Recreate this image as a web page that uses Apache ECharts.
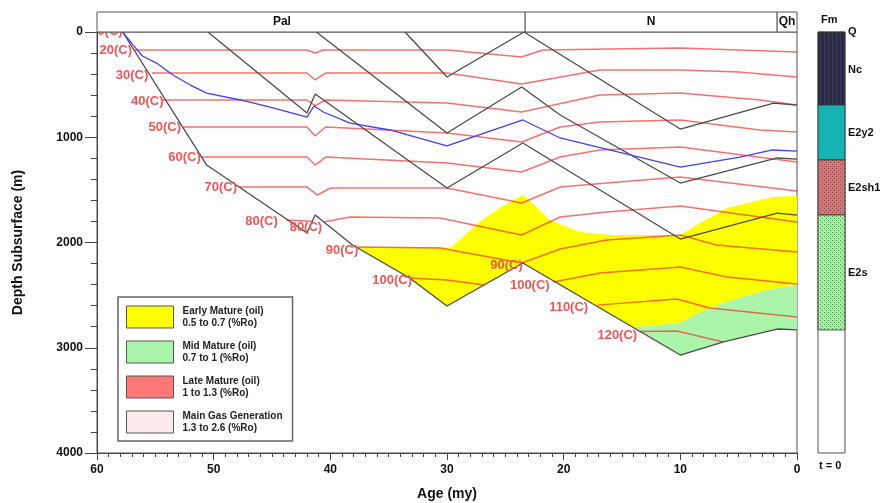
<!DOCTYPE html>
<html>
<head>
<meta charset="utf-8">
<script src="https://cdn.jsdelivr.net/npm/echarts@6/dist/echarts.min.js"></script>
<style>
  html, body { margin: 0; padding: 0; background: #fff; }
  #chart { width: 893px; height: 503px; }
</style>
</head>
<body>
<div id="chart"></div>
<script>
// periods on the top band (ages in my)
const periods = ['Pal', 'N', 'Qh'];
const periodAges = [65, 23.3, 1.7, 0];

// burial history of the horizons, [age (my), depth (m)]
const horizonA = [[57.8, 0], [50.6, 1264], [42.0, 1910], [41.3, 1739], [38.1, 2024], [33.2, 2337], [30.0, 2603], [23.5, 2195], [10.0, 3069], [6.3, 2945], [1.7, 2822], [0, 2831]];
const horizonB = [[50.5, 0], [42.0, 770], [41.3, 589], [30.0, 1482], [23.5, 1055], [10.0, 1967], [1.7, 1720], [0, 1739]];
const horizonC = [[41.2, 0], [30.0, 960], [23.6, 523], [20.3, 789], [10.0, 1435], [1.7, 1197], [0, 1207]];
const horizonD = [[33.6, 0], [30.0, 428], [23.4, 0], [10.0, 922], [2.0, 675], [0, 694]];
const sourceRock = [[57.8, 0], [56.9, 124], [56.1, 228], [54.9, 295], [53.5, 409], [52.0, 504], [50.6, 580], [47.7, 646], [44.9, 722], [42.0, 808], [41.4, 703], [40.6, 760], [38.3, 865], [34.9, 931], [30.0, 1083], [23.5, 836], [20.3, 1007], [10.0, 1283], [4.9, 1188], [2.1, 1121], [0, 1131]];

// isotherms
const iso20 = [[56.8, 171], [42.0, 171], [41.3, 200], [40.6, 171], [30.0, 171], [23.6, 238], [21.8, 171], [10.0, 152], [0, 190]];
const iso30 = [[55.3, 390], [42.0, 390], [41.3, 456], [40.4, 390], [30.0, 390], [23.6, 494], [16.9, 361], [10.0, 361], [5.0, 380], [0, 428]];
const iso40 = [[54.4, 646], [42.0, 646], [41.3, 700], [40.4, 646], [30.0, 675], [23.6, 760], [16.9, 599], [10.0, 580], [3.2, 646], [0, 694]];
const iso50 = [[52.6, 903], [42.0, 903], [41.3, 988], [40.4, 903], [30.0, 960], [23.6, 1045], [20.3, 903], [16.9, 855], [10.0, 836], [3.2, 931], [0, 950]];
const iso60 = [[51.0, 1188], [42.0, 1188], [41.3, 1264], [40.4, 1188], [30.0, 1245], [23.6, 1330], [20.3, 1188], [16.9, 1121], [10.0, 1093], [0, 1235]];
const iso70 = [[47.8, 1473], [42.0, 1473], [41.1, 1549], [40.0, 1482], [30.0, 1482], [23.6, 1625], [20.3, 1473], [16.3, 1435], [10.0, 1378], [0, 1511]];
const iso80a = [[43.8, 1786], [42.0, 1796], [41.55, 1800]];
const iso80b = [[40.6, 1805], [38.3, 1758], [30.6, 1767], [23.6, 1929], [20.3, 1758], [16.3, 1710], [10.0, 1653], [0, 1805]];
const iso90 = [[37.7, 2043], [30.6, 2052], [23.6, 2195], [20.3, 2062], [16.3, 1976], [10.0, 1929], [6.9, 2024], [0, 2090]];
const iso100a = [[33.2, 2337], [30.0, 2356], [26.8, 2404]];
const iso100b = [[20.9, 2375], [16.9, 2290], [10.0, 2233], [6.0, 2328], [0, 2394]];
const iso110 = [[17.1, 2595], [10.3, 2537], [7.5, 2622], [0, 2708]];
const iso120 = [[13.5, 2845], [10.3, 2841], [6.3, 2945]];

const isoLabels = ['10(C)', '20(C)', '30(C)', '40(C)', '50(C)', '60(C)', '70(C)', '80(C)', '80(C)', '90(C)', '100(C)', '90(C)', '100(C)', '110(C)', '120(C)'];
const isoLabelAt = [[57.8, -8], [57.0, 171], [55.6, 409], [54.3, 656], [52.8, 903], [51.1, 1188], [48.0, 1473], [44.5, 1796], [40.7, 1853], [37.6, 2071], [33.0, 2356], [23.5, 2214], [21.2, 2404], [17.9, 2613], [13.7, 2879]];

// maturity zones
const earlyMature = [[37.7, 2043], [30.6, 2043], [29.7, 2052], [27.2, 1805], [25.5, 1672], [23.5, 1549], [22.5, 1644], [21.2, 1786], [18.6, 1900], [16.0, 1929], [10.0, 1929], [8.3, 1815], [6.0, 1672], [2.1, 1568], [0, 1558], [0, 2404], [2.6, 2451], [5.5, 2546], [8.3, 2660], [10.0, 2765], [13.7, 2803], [13.8, 2822], [23.5, 2195], [30.0, 2603], [33.2, 2337]];
const midMature = [[13.8, 2822], [13.7, 2803], [10.0, 2765], [8.3, 2660], [5.5, 2546], [2.6, 2451], [0, 2404], [0, 2831], [1.7, 2822], [6.3, 2945], [10.0, 3069]];

const legendNames = ['Early Mature (oil)', 'Mid Mature (oil)', 'Late Mature (oil)', 'Main Gas Generation'];
const legendRanges = ['0.5 to 0.7 (%Ro)', '0.7 to 1 (%Ro)', '1 to 1.3 (%Ro)', '1.3 to 2.6 (%Ro)'];

// formations at t = 0
const fmNames = ['Q', 'Nc', 'E2y2', 'E2sh1', 'E2s'];
const fmTop = [0, 25, 694, 1216, 1739];
const fmBase = [25, 694, 1216, 1739, 2831];

function pattern(bg, dot, size, mode) {
  const c = document.createElement('canvas');
  c.width = size;
  c.height = size;
  const g = c.getContext('2d');
  g.fillStyle = bg;
  g.fillRect(0, 0, size, size);
  g.fillStyle = dot;
  if (mode === 'vline') {
    g.fillRect(0, 0, 1, size);
  } else {
    g.fillRect(0, 0, 1, 1);
    g.fillRect(size / 2, size / 2, 1, 1);
  }
  return { image: c, repeat: 'repeat' };
}

const fmFill = [
  pattern('#272a42', '#3a3d58', 4, 'vline'),
  pattern('#272a42', '#3a3d58', 4, 'vline'),
  '#16b3b3',
  pattern('#cf7a7a', '#8e3e3e', 4),
  pattern('#a6eea6', '#3f9c3f', 4)
];

const chart = echarts.init(document.getElementById('chart'));

const redLine = { color: 'rgba(240,40,40,0.66)', width: 1.5 };
const blackLine = { color: '#4a4a4a', width: 1.3 };

function lineSeries(data, style, z) {
  return {
    type: 'line',
    xAxisIndex: 0,
    yAxisIndex: 0,
    data: data,
    showSymbol: false,
    symbol: 'none',
    silent: true,
    z: z,
    lineStyle: style
  };
}

function zoneSeries(name, points, color) {
  return {
    type: 'custom',
    name: name,
    xAxisIndex: 0,
    yAxisIndex: 0,
    z: 1,
    silent: true,
    clip: true,
    itemStyle: { color: color },
    data: points.length ? [[0, 0]] : [],
    renderItem: function (params, api) {
      return {
        type: 'polygon',
        shape: { points: points.map(p => api.coord(p)) },
        style: { fill: color, stroke: null }
      };
    }
  };
}

const isotherms = [iso20, iso30, iso40, iso50, iso60, iso70, iso80a, iso80b, iso90, iso100a, iso100b, iso110, iso120];
const horizons = [horizonA, horizonB, horizonC, horizonD];

const series = [
  zoneSeries(legendNames[0], earlyMature, '#ffff00'),
  zoneSeries(legendNames[1], midMature, '#aaf5aa'),
  zoneSeries(legendNames[2], [], '#ff7878'),
  zoneSeries(legendNames[3], [], '#fbeaea')
];
isotherms.forEach(d => series.push(lineSeries(d, redLine, 2)));
horizons.forEach(d => series.push(lineSeries(d, blackLine, 3)));
series.push(lineSeries(sourceRock, { color: '#4040f0', width: 1.3 }, 3));

// isotherm labels
series.push({
  type: 'custom',
  xAxisIndex: 0,
  yAxisIndex: 0,
  z: 6,
  clip: true,
  silent: true,
  data: isoLabelAt.map((p, i) => [p[0], p[1], i]),
  renderItem: function (params, api) {
    const pt = api.coord([api.value(0), api.value(1)]);
    return {
      type: 'text',
      x: pt[0],
      y: pt[1],
      style: {
        text: isoLabels[api.value(2)],
        font: 'bold 13px Arial',
        fill: '#f05656',
        align: 'right',
        verticalAlign: 'middle'
      }
    };
  }
});

// period band on top
series.push({
  type: 'custom',
  xAxisIndex: 0,
  yAxisIndex: 0,
  z: 7,
  clip: false,
  silent: true,
  data: periods.map((p, i) => [periodAges[i], periodAges[i + 1], i]),
  renderItem: function (params, api) {
    const cs = params.coordSys;
    const a = api.coord([api.value(0), 0])[0];
    const b = api.coord([api.value(1), 0])[0];
    const x1 = Math.max(cs.x, Math.min(a, b));
    const x2 = Math.min(cs.x + cs.width, Math.max(a, b));
    return {
      type: 'group',
      children: [
        {
          type: 'rect',
          shape: { x: x1, y: cs.y - 20, width: x2 - x1, height: 20 },
          style: { fill: '#fff', stroke: '#555', lineWidth: 1 }
        },
        {
          type: 'text',
          x: (a + b) / 2,
          y: cs.y - 10,
          style: {
            text: periods[api.value(2)],
            font: 'bold 12px Arial',
            fill: '#111',
            align: 'center',
            verticalAlign: 'middle'
          }
        }
      ]
    };
  }
});

// formation column
series.push({
  type: 'custom',
  xAxisIndex: 1,
  yAxisIndex: 1,
  z: 3,
  clip: false,
  silent: true,
  data: fmNames.map((n, i) => [fmTop[i], fmBase[i], i]),
  renderItem: function (params, api) {
    const i = api.value(2);
    const p1 = api.coord([0, api.value(0)]);
    const p2 = api.coord([1, api.value(1)]);
    const ly = i === 0 ? p1[1] : (p1[1] + p2[1]) / 2;
    return {
      type: 'group',
      children: [
        {
          type: 'rect',
          shape: { x: p1[0], y: p1[1], width: p2[0] - p1[0], height: p2[1] - p1[1] },
          style: { fill: fmFill[i], stroke: '#333', lineWidth: 0.8 }
        },
        {
          type: 'text',
          x: p2[0] + 3,
          y: ly,
          style: {
            text: fmNames[i],
            font: 'bold 11px Arial',
            fill: '#111',
            align: 'left',
            verticalAlign: 'middle'
          }
        }
      ]
    };
  }
});

const axisText = { color: '#111', fontWeight: 'bold', fontSize: 12, fontFamily: 'Arial' };

const option = {
  animation: false,
  backgroundColor: '#fff',
  grid: [
    { left: 97, top: 32, width: 700, height: 421, outerBoundsMode: 'none', containLabel: false, show: true, borderColor: '#555', borderWidth: 1, backgroundColor: '#fff' },
    { left: 818, top: 32, width: 27, height: 421, outerBoundsMode: 'none', containLabel: false, show: true, borderColor: '#555', borderWidth: 1, backgroundColor: '#fff' }
  ],
  xAxis: [
    {
      type: 'value',
      gridIndex: 0,
      position: 'bottom',
      min: 0,
      max: 60,
      interval: 10,
      inverse: true,
      name: 'Age (my)',
      nameLocation: 'middle',
      nameGap: 34,
      nameTextStyle: { color: '#111', fontWeight: 'bold', fontSize: 14, fontFamily: 'Arial' },
      axisLine: { onZero: false, lineStyle: { color: '#444' } },
      axisTick: { length: 7, lineStyle: { color: '#444' } },
      minorTick: { show: true, splitNumber: 10, length: 4, lineStyle: { color: '#444' } },
      axisLabel: Object.assign({ margin: 11, formatter: v => String(v) }, axisText),
      splitLine: { show: false }
    },
    { type: 'value', gridIndex: 1, min: 0, max: 1, show: false }
  ],
  yAxis: [
    {
      type: 'value',
      gridIndex: 0,
      position: 'left',
      min: 0,
      max: 4000,
      interval: 1000,
      inverse: true,
      name: 'Depth Subsurface (m)',
      nameLocation: 'middle',
      nameGap: 72,
      nameTextStyle: { color: '#111', fontWeight: 'bold', fontSize: 14, fontFamily: 'Arial' },
      axisLine: { onZero: false, lineStyle: { color: '#444' } },
      axisTick: { length: 12, lineStyle: { color: '#444' } },
      minorTick: { show: true, splitNumber: 5, length: 6, lineStyle: { color: '#444' } },
      axisLabel: Object.assign({ margin: 14, formatter: v => String(v) }, axisText),
      splitLine: { show: false }
    },
    { type: 'value', gridIndex: 1, min: 0, max: 4000, inverse: true, show: false }
  ],
  legend: {
    left: 118,
    top: 297,
    orient: 'vertical',
    padding: [8, 10, 7, 8],
    itemGap: 11,
    itemWidth: 47,
    itemHeight: 22,
    icon: 'rect',
    borderColor: '#666',
    borderWidth: 1.5,
    backgroundColor: '#fff',
    selectedMode: false,
    itemStyle: { borderColor: '#555', borderWidth: 1 },
    textStyle: { color: '#222', fontWeight: 'bold', fontSize: 10, fontFamily: 'Arial', lineHeight: 12, padding: [0, 0, 0, 4] },
    formatter: function (name) {
      return name + '\n' + legendRanges[legendNames.indexOf(name)];
    },
    data: legendNames
  },
  graphic: [
    { type: 'text', left: 821, top: 14, style: { text: 'Fm', font: 'bold 11px Arial', fill: '#111' } },
    { type: 'text', left: 819, top: 460, style: { text: 't = 0', font: 'bold 11px Arial', fill: '#111' } }
  ],
  series: series
};

chart.setOption(option);
</script>
</body>
</html>
